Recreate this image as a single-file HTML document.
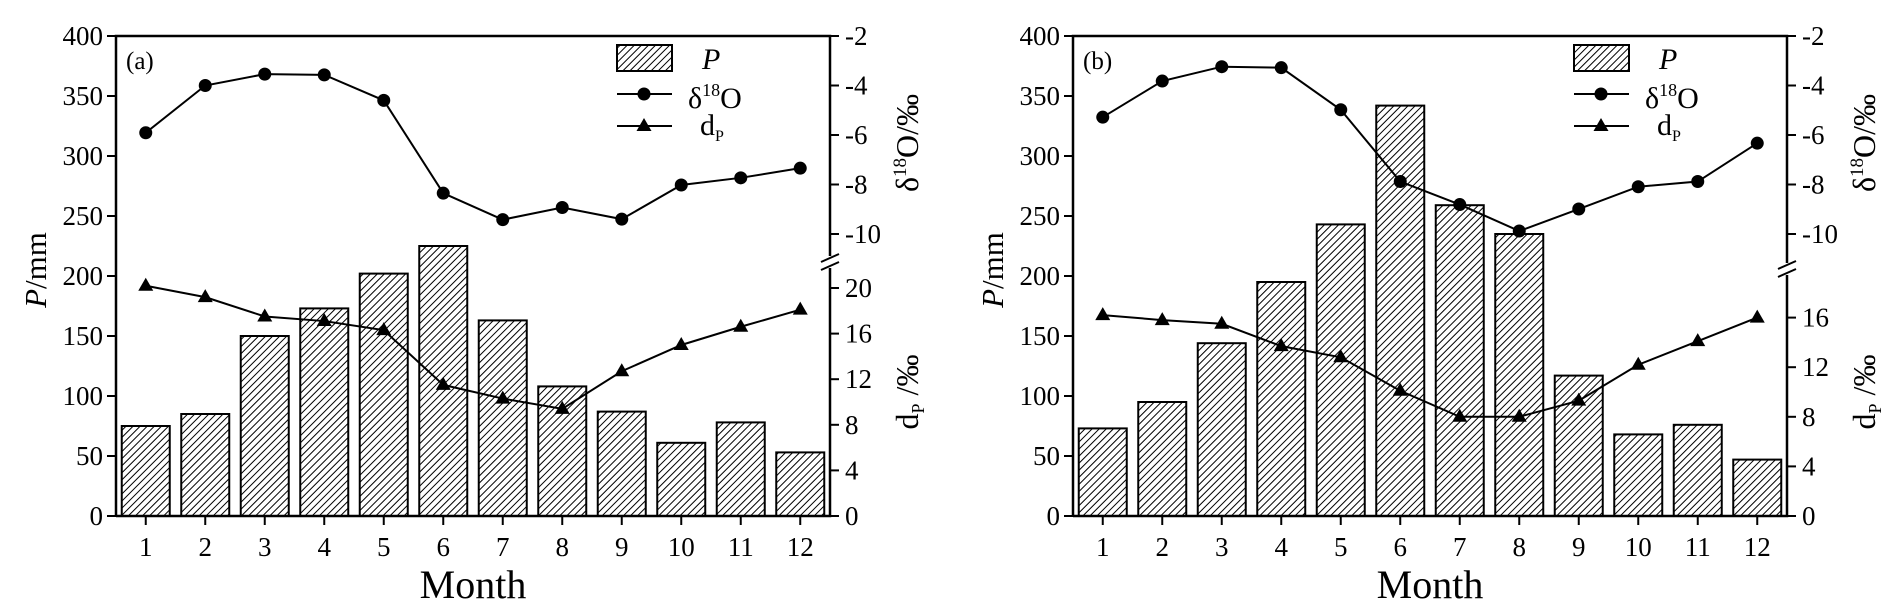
<!DOCTYPE html>
<html><head><meta charset="utf-8"><style>
html,body{margin:0;padding:0;background:#fff}
svg{display:block;font-family:"Liberation Serif",serif}
</style></head><body>
<svg id="chart" width="1892" height="612" viewBox="0 0 1892 612" xmlns="http://www.w3.org/2000/svg">
<defs><pattern id="hatch" patternUnits="userSpaceOnUse" width="5" height="5" patternTransform="rotate(45)"><rect width="5" height="5" fill="#fff"/><line x1="0" y1="0" x2="0" y2="5" stroke="#000" stroke-width="2"/></pattern></defs>
</svg>
<script>
const months=[1,2,3,4,5,6,7,8,9,10,11,12];
const precipA=[75,85,150,173,202,225,163,108,87,61,78,53];
const deltaA=[-5.91,-4.0,-3.54,-3.57,-4.6,-8.35,-9.42,-8.93,-9.4,-8.02,-7.73,-7.34];
const dexA=[20.2,19.2,17.5,17.1,16.3,11.5,10.3,9.4,12.7,15.0,16.6,18.1];
const precipB=[73,95,144,195,243,342,259,235,117,68,76,47];
const deltaB=[-5.28,-3.82,-3.24,-3.28,-4.98,-7.88,-8.81,-9.88,-8.99,-8.09,-7.88,-6.33];
const dexB=[16.2,15.8,15.5,13.7,12.8,10.1,8.0,8.0,9.3,12.2,14.1,16.0];
const pTicks=[0,50,100,150,200,250,300,350,400];
const deltaTicks=[-2,-4,-6,-8,-10];
const dexTicksA=[0,4,8,12,16,20];
const dexTicksB=[0,4,8,12,16];

const NS="http://www.w3.org/2000/svg";
const svg=document.getElementById('chart');
function el(tag,attrs,parent,text){const e=document.createElementNS(NS,tag);for(const k in attrs)e.setAttribute(k,attrs[k]);if(text!==undefined)e.textContent=text;(parent||svg).appendChild(e);return e;}

function panel(ox,label,P,D,X,dTicks,dScalePx,breakY){
  const g=el('g',{});
  
  
  const L=116+ox,R=830+ox,T=36,B=516;
  const xs=m=>L+(m-0.5)*(R-L)/12;
  const yP=v=>B-v*(B-T)/400;
  const yD=v=>T+(-2-v)*24.75;
  const yX=v=>B-v*dScalePx;
  P.forEach((v,i)=>{const b=el('rect',{x:xs(months[i])-24,y:yP(v),width:48,height:B-yP(v),fill:'url(#hatch)',stroke:'#000','stroke-width':2},g);
    
    });
  const f=el('path',{d:`M${L},${B}V${T}H${R}V${breakY-7}M${R},${breakY+5}V${B}H${L}`,fill:'none',stroke:'#000','stroke-width':2.5},g);
  
  
  el('path',{d:`M${R-9},${breakY-1}L${R+9},${breakY-9}M${R-9},${breakY+7}L${R+9},${breakY-1}`,stroke:'#000','stroke-width':2},g);
  pTicks.forEach(t=>{el('line',{x1:L-9,x2:L,y1:yP(t),y2:yP(t),stroke:'#000','stroke-width':2},g);
    const tx=el('text',{x:L-13,y:yP(t)+9,'text-anchor':'end','font-size':27},g,t);
    
    });
  months.forEach(m=>{el('line',{x1:xs(m),x2:xs(m),y1:B,y2:B+9,stroke:'#000','stroke-width':2},g);
    const tx=el('text',{x:xs(m),y:556,'text-anchor':'middle','font-size':27},g,m);
    
    });
  deltaTicks.forEach(t=>{el('line',{x1:R,x2:R+9,y1:yD(t),y2:yD(t),stroke:'#000','stroke-width':2},g);
    const tx=el('text',{x:R+15,y:yD(t)+9,'font-size':27},g,t);
    
    });
  dTicks.forEach(t=>{el('line',{x1:R,x2:R+9,y1:yX(t),y2:yX(t),stroke:'#000','stroke-width':2},g);
    const tx=el('text',{x:R+15,y:yX(t)+9,'font-size':27},g,t);
    
    });
  const dl=el('polyline',{points:D.map((v,i)=>xs(months[i])+','+yD(v)).join(' '),fill:'none',stroke:'#000','stroke-width':2},g);
  
  
  D.forEach((v,i)=>{const c=el('circle',{cx:xs(months[i]),cy:yD(v),r:6.5,fill:'#000'},g);
    
    });
  const xl=el('polyline',{points:X.map((v,i)=>xs(months[i])+','+yX(v)).join(' '),fill:'none',stroke:'#000','stroke-width':2},g);
  
  
  X.forEach((v,i)=>{const x=xs(months[i]),y=yX(v);const p=el('polygon',{points:`${x},${y-8} ${x-7.5},${y+5} ${x+7.5},${y+5}`,fill:'#000'},g);
    
    });
  const pl=el('text',{x:L+10,y:69,'font-size':25},g,'('+label+')');
  
  
  const mt=el('text',{x:(L+R)/2,y:598,'text-anchor':'middle','font-size':40},g,'Month');
  
  
  const yt=el('text',{transform:`translate(${ox+46},270) rotate(-90)`,'text-anchor':'middle','font-size':31},g);
  
  
  el('tspan',{'font-style':'italic'},yt,'P');el('tspan',{},yt,'/mm');
  const rt=el('text',{transform:`translate(${ox+918},143) rotate(-90)`,'text-anchor':'middle','font-size':32},g);
  
  
  el('tspan',{},rt,'δ');el('tspan',{'font-size':19,dy:-12},rt,'18');el('tspan',{dy:12},rt,'O/‰');
  const rt2=el('text',{transform:`translate(${ox+918},392) rotate(-90)`,'text-anchor':'middle','font-size':32},g);
  
  
  el('tspan',{},rt2,'d');el('tspan',{'font-size':18,dy:6},rt2,'P');el('tspan',{dy:-6},rt2,' /‰');
  const lg=el('g',{},g);
  
  
  const lx=617+ox;
  el('rect',{x:lx,y:45,width:55,height:26,fill:'url(#hatch)',stroke:'#000','stroke-width':2},lg);
  el('text',{x:lx+85,y:69,'font-size':30,'font-style':'italic'},lg,'P');
  el('line',{x1:lx,x2:lx+55,y1:94,y2:94,stroke:'#000','stroke-width':2},lg);
  el('circle',{cx:lx+27,cy:94,r:6.5,fill:'#000'},lg);
  const t1=el('text',{x:lx+71,y:108,'font-size':30},lg);
  el('tspan',{},t1,'δ');el('tspan',{'font-size':18,dy:-12},t1,'18');el('tspan',{dy:12},t1,'O');
  el('line',{x1:lx,x2:lx+55,y1:126,y2:126,stroke:'#000','stroke-width':2},lg);
  el('polygon',{points:`${lx+27},${118} ${lx+19.5},${131} ${lx+34.5},${131}`,fill:'#000'},lg);
  const t2=el('text',{x:lx+83,y:135,'font-size':30},lg);
  el('tspan',{},t2,'d');el('tspan',{'font-size':16,dy:6},t2,'P');
}
panel(0,'a',precipA,deltaA,dexA,dexTicksA,11.4,263);
panel(957,'b',precipB,deltaB,dexB,dexTicksB,12.4,270);
</script>
</body></html>
